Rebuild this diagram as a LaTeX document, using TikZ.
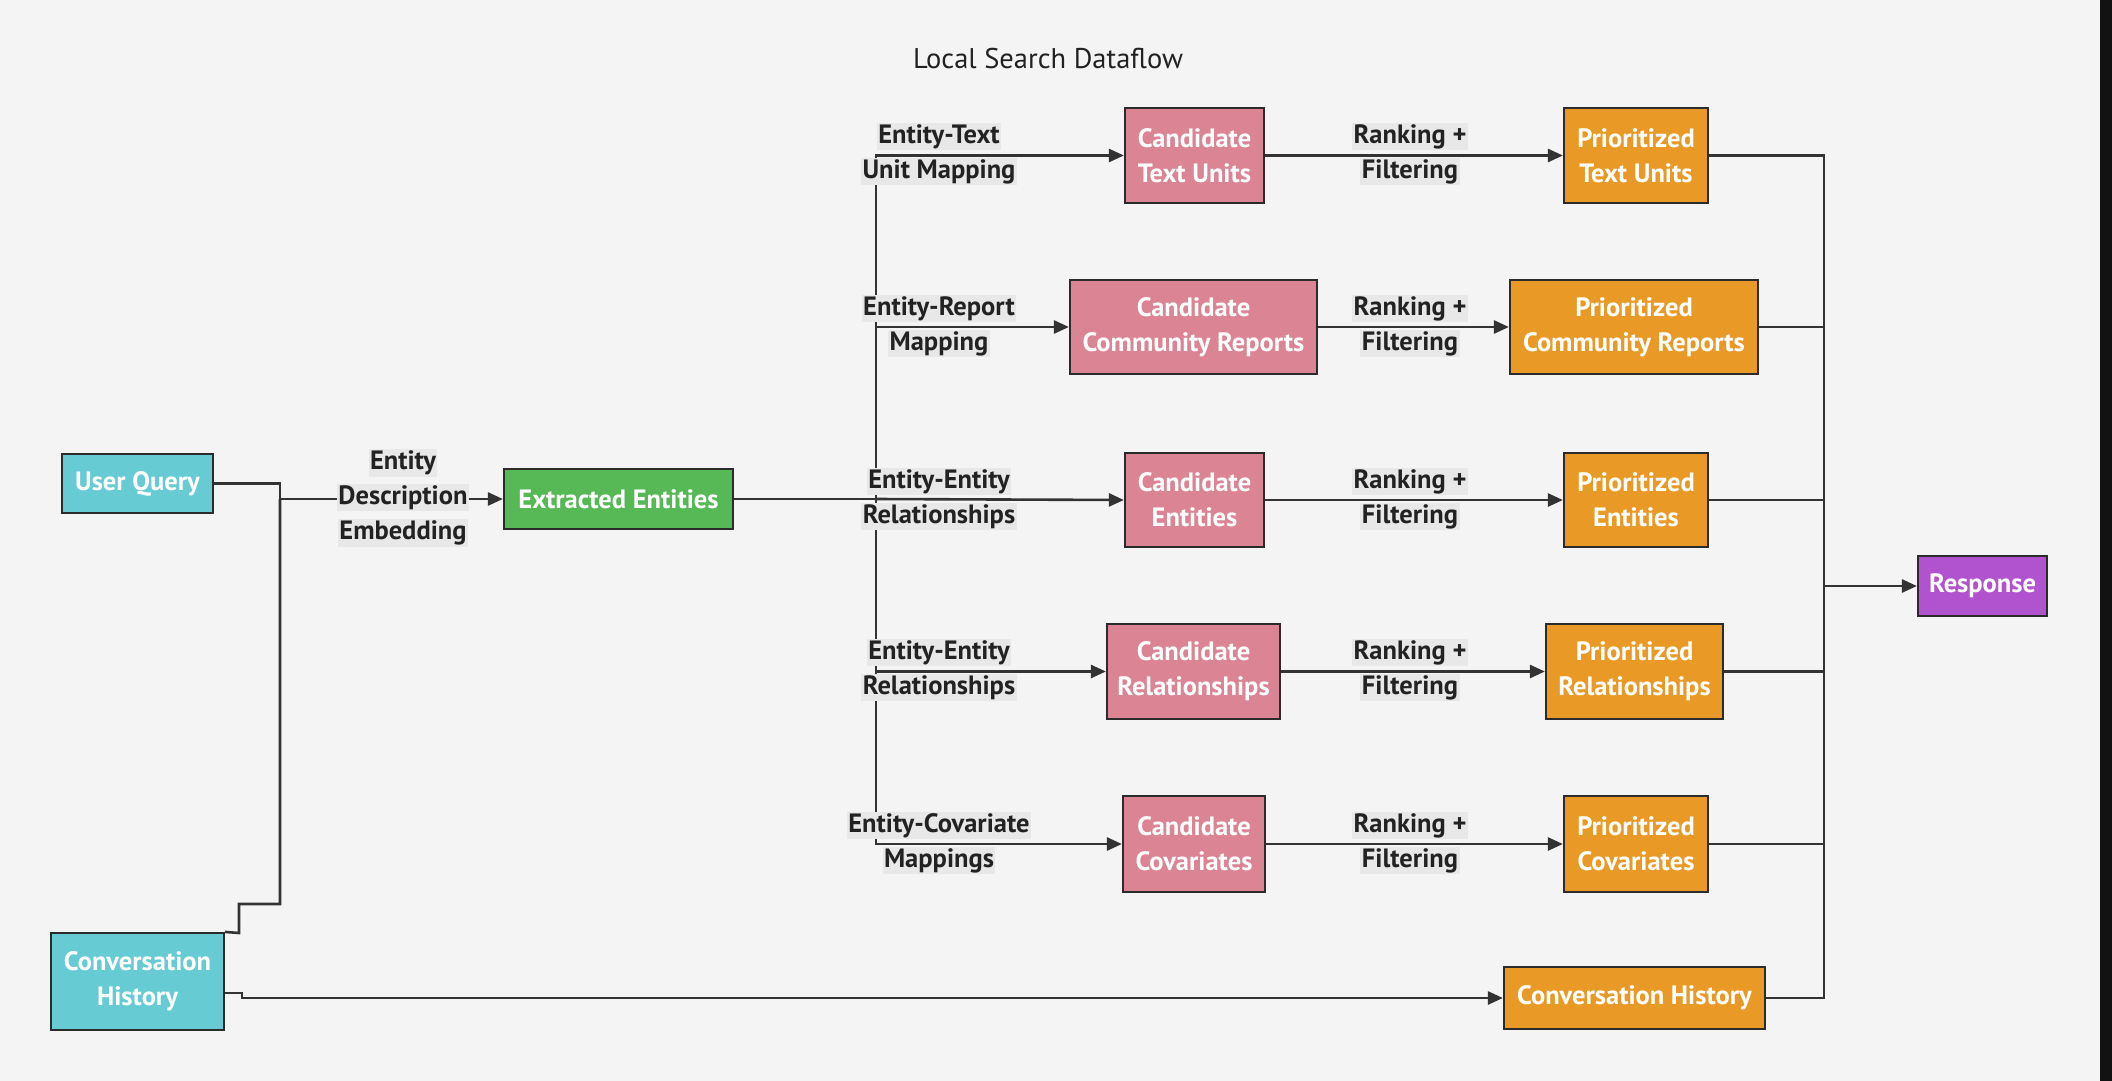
\documentclass[tikz,border=0pt]{standalone}
\usepackage{fontspec}
\setmainfont{PT Sans}
\usetikzlibrary{arrows.meta,calc}
\definecolor{bgc}{HTML}{F4F4F4}
\definecolor{bdr}{HTML}{2B2B2B}
\definecolor{lc}{HTML}{333333}
\definecolor{cyanbox}{HTML}{67CBD3}
\definecolor{greenbox}{HTML}{56B956}
\definecolor{pinkbox}{HTML}{DB8494}
\definecolor{orangebox}{HTML}{E99A26}
\definecolor{purplebox}{HTML}{B152CE}
\definecolor{lblbg}{HTML}{E8E8E8}
\definecolor{lbltext}{HTML}{222222}
\newcommand\lbx[1]{{\setlength{\fboxsep}{1.5pt}\colorbox{lblbg}{#1}}}
\begin{document}
\begin{tikzpicture}[x=1pt,y=-1pt,
  box/.style={draw=bdr, line width=2.2pt, text=white, align=center, inner sep=0pt,
    font=\bfseries\fontsize{26.5}{35}\selectfont},
  lbl/.style={text=lbltext, align=center, inner sep=0pt, font=\bfseries\fontsize{26.5}{35}\selectfont},
  ed/.style={draw=lc, line width=2.6pt},
  arr/.style={ed, -{Triangle[length=15pt,width=13pt]}}]
\useasboundingbox (0,0) rectangle (2112,1081);
\fill[bgc] (0,0) rectangle (2112,1081);
\fill[black!93] (2100,0) rectangle (2112,1081);

\node[font=\fontsize{28.5}{32}\selectfont, text=lbltext] (title) at (1048,59) {Local Search Dataflow};

% left
\node[box, fill=cyanbox, minimum width=151pt, minimum height=59pt] (uq) at (137.5,483.5) {User Query};
\node[box, fill=cyanbox, minimum width=173pt, minimum height=97pt] (chl) at (137.5,981.5) {Conversation\\History};
\node[box, fill=greenbox, minimum width=229pt, minimum height=60pt] (ee) at (618.5,499) {Extracted Entities};

% candidates
\node[box, fill=pinkbox, minimum width=139pt, minimum height=95pt] (ctu) at (1194.5,155.5) {Candidate\\Text Units};
\node[box, fill=pinkbox, minimum width=247pt, minimum height=94pt] (ccr) at (1193.5,327) {Candidate\\Community Reports};
\node[box, fill=pinkbox, minimum width=139pt, minimum height=94pt] (cen) at (1194.5,500) {Candidate\\Entities};
\node[box, fill=pinkbox, minimum width=173pt, minimum height=95pt] (crel) at (1193.5,671.5) {Candidate\\Relationships};
\node[box, fill=pinkbox, minimum width=142pt, minimum height=96pt] (ccov) at (1194,844) {Candidate\\Covariates};

% prioritized
\node[box, fill=orangebox, minimum width=144pt, minimum height=95pt] (ptu) at (1636,155.5) {Prioritized\\Text Units};
\node[box, fill=orangebox, minimum width=248pt, minimum height=94pt] (pcr) at (1634,327) {Prioritized\\Community Reports};
\node[box, fill=orangebox, minimum width=144pt, minimum height=94pt] (pen) at (1636,500) {Prioritized\\Entities};
\node[box, fill=orangebox, minimum width=177pt, minimum height=95pt] (prel) at (1634.5,671.5) {Prioritized\\Relationships};
\node[box, fill=orangebox, minimum width=144pt, minimum height=96pt] (pcov) at (1636,844) {Prioritized\\Covariates};
\node[box, fill=orangebox, minimum width=261pt, minimum height=62pt] (chr) at (1634.5,998) {Conversation History};

\node[box, fill=purplebox, minimum width=129pt, minimum height=60pt] (resp) at (1982.5,586) {Response};

% coordinates
\coordinate (jn) at (280,499);
\coordinate (br) at (876,499);
\coordinate (bus) at (1824,586);

% edges into extracted entities
\draw[ed] (uq.east) -- (280,483.5) -- (jn);
\draw[ed] (chl.north east) -- (239,933) -- (239,904) -- (280,904) -- (jn);
\draw[arr] (jn) -- (ee.west);

% conversation history
\draw[arr] ($(chl.east)+(0,11.5)$) -- (242,993) -- (242,998) -- (chr.west);

% branches
\draw[ed] (ee.east) -- (br);
\draw[arr] (br) |- (ctu.west);
\draw[arr] (br) |- (ccr.west);
\draw[arr] (br) -- (cen.west);
\draw[arr] (br) |- (crel.west);
\draw[arr] (br) |- (ccov.west);

% ranking
\draw[arr] (ctu.east) -- (ptu.west);
\draw[arr] (ccr.east) -- (pcr.west);
\draw[arr] (cen.east) -- (pen.west);
\draw[arr] (crel.east) -- (prel.west);
\draw[arr] (ccov.east) -- (pcov.west);

% bus
\draw[ed] (ptu.east) -| (bus);
\draw[ed] (pcr.east) -| (bus);
\draw[ed] (pen.east) -| (bus);
\draw[ed] (prel.east) -| (bus);
\draw[ed] (pcov.east) -| (bus);
\draw[ed] (chr.east) -| (bus);
\draw[arr] (bus) -- (resp.west);

% labels
\node[lbl] (l0) at (403,498) {\lbx{Entity}\\\lbx{Description}\\\lbx{Embedding}};
\node[lbl] (l1) at (939,154) {\lbx{Entity-Text}\\\lbx{Unit Mapping}};
\node[lbl] (l2) at (939,326) {\lbx{Entity-Report}\\\lbx{Mapping}};
\node[lbl] (l3) at (939,499) {\lbx{Entity-Entity}\\\lbx{Relationships}};
\node[lbl] (l4) at (939,670) {\lbx{Entity-Entity}\\\lbx{Relationships}};
\node[lbl] (l5) at (939,843) {\lbx{Entity-Covariate}\\\lbx{Mappings}};
\node[lbl] (r1) at (1410,154) {\lbx{Ranking +}\\\lbx{Filtering}};
\node[lbl] (r2) at (1410,326) {\lbx{Ranking +}\\\lbx{Filtering}};
\node[lbl] (r3) at (1410,499) {\lbx{Ranking +}\\\lbx{Filtering}};
\node[lbl] (r4) at (1410,670) {\lbx{Ranking +}\\\lbx{Filtering}};
\node[lbl] (r5) at (1410,843) {\lbx{Ranking +}\\\lbx{Filtering}};
\end{tikzpicture}
\end{document}
